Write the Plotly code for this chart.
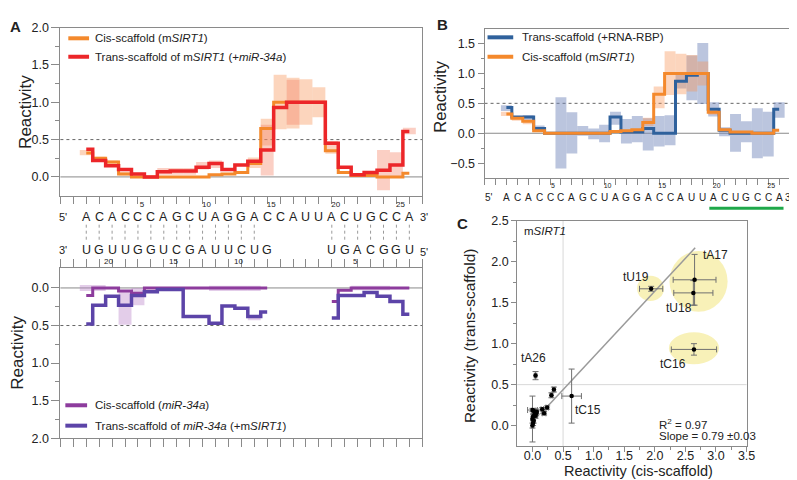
import plotly.graph_objects as go

W, H = 797, 480
FONT = "Liberation Sans, Arial, sans-serif"

# ---------------- data ----------------
pos = list(range(1, 27))
sirt1_seq = list("ACACCCAGCUAGGACCAUUACUGCCA")
mir34a_seq = list("UGUUGGUCGAUUCUG") + [None] * 4 + list("UGACGGU")
mir34a_num = ["20", "15", "10", "5"]
mir34a_num_pos = [2.75, 7.75, 12.75, 21.85]
paired = list(range(1, 15)) + list(range(20, 27))
seed_span = [19.6, 26.4]

# panel A top / panel B: cis-scaffold mSIRT1
cis_sirt1 = [0.32, 0.25, 0.20, 0.04, 0.0, 0.0, 0.0, 0.0, 0.0, 0.0, 0.03, 0.04, 0.06,
             0.18, 0.65, 1.0, 1.0, 1.0, 1.0, 0.35, 0.06, 0.02, 0.02, 0.0, 0.0, 0.05]
cis_sirt1_lo = [0.29, 0.21, 0.15, 0.02, None, None, None, None, None, None, None, None, None,
                0.12, 0.42, 0.64, 0.65, 0.70, 0.80, 0.31, None, None, None, None, None, None]
cis_sirt1_hi = [0.36, 0.27, 0.22, 0.07, None, None, None, None, None, None, None, None, None,
                0.26, 0.78, 1.37, 1.33, 1.31, 1.20, 0.40, None, None, None, None, None, None]

# panel A top: trans-scaffold of mSIRT1 (+miR-34a)
trans_sirt1 = [0.37, 0.22, 0.15, 0.10, 0.04, 0.0, 0.07, 0.08, 0.08, 0.13, 0.18, 0.10, 0.16,
               0.21, 0.36, 0.93, 1.0, 1.0, 1.0, 0.45, 0.13, 0.03, 0.06, 0.09, 0.16, 0.61]
trans_sirt1_lo = [None, None, None, None, None, None, 0.03, 0.03, 0.03, 0.10, 0.12, None, None,
                  None, 0.02, None, 0.70, None, None, 0.40, None, None, None, -0.18, 0.0, 0.57]
trans_sirt1_hi = [None, None, None, None, None, None, 0.12, 0.12, 0.12, 0.20, 0.22, None, None,
                  None, 0.70, None, 1.30, None, None, 0.48, None, None, None, 0.36, 0.33, 0.66]

# panel A bottom: miR-34a
cis_mir = [0.10, 0.0, 0.0, 0.04, 0.07, 0.0, 0.0, 0.0, 0.0, 0.0, 0.0, 0.0, 0.0, 0.0, 0.0,
           None, None, None, None, 0.18, 0.03, 0.0, 0.0, 0.0, 0.0, 0.0]
cis_mir_lo = [-0.04, -0.04, None, 0.04, 0.0, None, None, None, None, None, -0.03, -0.03, -0.03, -0.03, None,
              None, None, None, None, None, None, -0.03, -0.03, -0.03, None, None]
cis_mir_hi = [0.04, 0.04, None, 0.49, 0.23, None, None, None, None, None, 0.04, 0.04, 0.04, 0.04, None,
              None, None, None, None, None, None, 0.03, 0.03, 0.03, None, None]
trans_mir = [0.48, 0.23, 0.11, 0.23, 0.10, 0.05, 0.02, 0.02, 0.38, 0.38, 0.47, 0.24, 0.27, 0.38, 0.32,
             None, None, None, None, 0.40, 0.10, 0.10, 0.06, 0.11, 0.18, 0.35]
trans_mir_lo = [None] * 13 + [0.36] + [None] * 12
trans_mir_hi = [None] * 13 + [0.43] + [None] * 12

# panel B: trans-scaffold (+RNA-RBP)
trans_rbp = [0.43, 0.27, 0.27, 0.08, 0.0, 0.0, 0.0, 0.0, 0.0, 0.0, 0.27, 0.02, 0.02,
             0.08, 0.0, 0.0, 0.87, 0.97, 1.0, 0.40, 0.05, 0.0, 0.0, 0.0, 0.0, 0.40]
trans_rbp_lo = [0.37, None, 0.22, 0.04, None, -0.59, -0.34, -0.04, -0.10, -0.15, 0.14, -0.17, -0.15,
                -0.29, -0.22, -0.20, 0.75, 0.55, 0.49, 0.28, -0.05, -0.31, -0.15, -0.42, -0.39, 0.26]
trans_rbp_hi = [0.47, None, 0.30, 0.13, None, 0.60, 0.35, 0.12, 0.08, 0.14, 0.36, 0.24, 0.29,
                0.25, 0.29, 0.30, 0.98, 1.30, 1.51, 0.52, 0.10, 0.32, 0.20, 0.42, 0.36, 0.52]

# panel C: reactivity cis vs trans
c_cis = [0.00, 0.01, 0.02, 0.00, 0.01, 0.03, 0.04, 0.02, 0.06, 0.07, 0.05, 0.00,
         0.16, 0.19, 0.24, 0.31, 0.35, 0.64, 0.05, 2.64, 2.63, 2.65, 1.94]
c_trans = [0.00, 0.03, 0.06, 0.08, 0.11, 0.13, 0.16, 0.18, 0.15, 0.17, 0.12, 0.19,
           0.20, 0.15, 0.22, 0.37, 0.44, 0.36, 0.61, 0.93, 1.62, 1.78, 1.67]
c_cis_err = [0.02, 0.02, 0.02, 0.02, 0.03, 0.02, 0.03, 0.03, 0.03, 0.02, 0.03, 0.08,
             0.02, 0.03, 0.02, 0.02, 0.02, 0.16, 0.02, 0.37, 0.32, 0.35, 0.19]
c_trans_err = [0.03, 0.03, 0.03, 0.28, 0.03, 0.03, 0.03, 0.03, 0.03, 0.03, 0.03, 0.02,
               0.02, 0.02, 0.02, 0.03, 0.03, 0.33, 0.05, 0.07, 0.15, 0.31, 0.03]
c_labels = {17: "tC15", 18: "tA26", 19: "tC16", 20: "tU18", 21: "tA17", 22: "tU19"}
fit_x = [0.13, 2.66]
fit_y = [0.14, 2.17]

# ---------------- styling ----------------
ORANGE = "#F4892C"
RED = "#EC2629"
MAGENTA = "#8D3C9D"
VIOLET = "#5C44A8"
BLUE = "#2F619C"
ORANGE_BAND = "rgba(248,150,90,0.40)"
RED_BAND = "rgba(244,130,100,0.38)"
LILAC = "rgba(185,130,200,0.40)"
BLUE_BAND = "rgba(120,140,190,0.50)"
AXIS = "#8a8a8a"
TXT = "#222222"


def fx(px):
    return px / W


def fy(py):
    return 1 - py / H


def band(lo, hi, color, xa, ya):
    xs, base, height = [], [], []
    for p, l, h in zip(pos, lo, hi):
        if l is None or h is None:
            continue
        xs.append(p)
        base.append(l)
        height.append(h - l)
    return go.Bar(x=xs, y=height, base=base, width=1, xaxis=xa, yaxis=ya,
                  marker=dict(color=color, line_width=0), showlegend=False, hoverinfo="skip")


def step(y, color, xa, ya, w=3):
    return go.Scatter(x=pos, y=y, mode="lines", line=dict(color=color, width=w, shape="hvh"),
                      xaxis=xa, yaxis=ya, showlegend=False, connectgaps=False)


fig = go.Figure()

# A top
fig.add_trace(band(cis_sirt1_lo, cis_sirt1_hi, ORANGE_BAND, "x", "y"))
fig.add_trace(band(trans_sirt1_lo, trans_sirt1_hi, RED_BAND, "x", "y"))
fig.add_trace(step(cis_sirt1, ORANGE, "x", "y"))
fig.add_trace(step(trans_sirt1, RED, "x", "y", 3.5))

# A bottom
fig.add_trace(band(cis_mir_lo, cis_mir_hi, LILAC, "x2", "y2"))
fig.add_trace(band(trans_mir_lo, trans_mir_hi, LILAC, "x2", "y2"))
fig.add_trace(step(cis_mir, MAGENTA, "x2", "y2"))
fig.add_trace(step(trans_mir, VIOLET, "x2", "y2", 3.5))

# B
fig.add_trace(band(trans_rbp_lo, trans_rbp_hi, BLUE_BAND, "x3", "y3"))
fig.add_trace(step(trans_rbp, BLUE, "x3", "y3"))
fig.add_trace(band(cis_sirt1_lo, cis_sirt1_hi, ORANGE_BAND, "x3", "y3"))
fig.add_trace(step(cis_sirt1, ORANGE, "x3", "y3"))

# C
fig.add_trace(go.Scatter(x=fit_x, y=fit_y, mode="lines", line=dict(color="#9a9a9a", width=1.5),
                         xaxis="x4", yaxis="y4", showlegend=False))
fig.add_trace(go.Scatter(
    x=c_cis, y=c_trans, mode="markers", xaxis="x4", yaxis="y4", showlegend=False,
    marker=dict(color="black", size=4.5),
    error_x=dict(type="data", array=c_cis_err, color="#707070", thickness=1, width=3),
    error_y=dict(type="data", array=c_trans_err, color="#707070", thickness=1, width=3)))

seq_major = [5, 10, 15, 20, 25]
seq_minor = [i for i in range(-1, 28) if i not in seq_major]
ax_common = dict(showline=True, linecolor=AXIS, linewidth=1, showgrid=False, zeroline=False,
                 ticks="outside", tickcolor=AXIS, tickfont=dict(size=12.5, color=TXT))

fig.update_layout(
    width=W, height=H, margin=dict(l=0, r=0, t=0, b=0),
    paper_bgcolor="white", plot_bgcolor="white", barmode="overlay",
    font=dict(family=FONT, color=TXT),
    xaxis=dict(ax_common, domain=[fx(53), fx(419)], range=[-1, 27], mirror=True,
               tickvals=seq_major, ticklen=7, tickfont=dict(size=8, color=TXT),
               ticklabelshift=4, ticklabelstandoff=-6,
               minor=dict(tickvals=seq_minor, ticklen=7, ticks="outside", tickcolor=AXIS),
               anchor="y"),
    yaxis=dict(ax_common, domain=[fy(186), fy(13)], range=[-0.25, 2.0], mirror=True,
               tickvals=[0, 0.5, 1, 1.5, 2], tickformat=".1f", ticklen=8,
               minor=dict(tickvals=[0.25, 0.75, 1.25, 1.75], ticklen=4, ticks="outside", tickcolor=AXIS),
               anchor="x"),
    xaxis2=dict(ax_common, domain=[fx(53), fx(419)], range=[-1, 27], mirror="ticks",
                tickvals=list(range(-1, 28)), showticklabels=False, ticklen=8, anchor="y2"),
    yaxis2=dict(ax_common, domain=[fy(436), fy(261)], range=[2.0, -0.26], mirror=True,
                tickvals=[0, 0.5, 1, 1.5, 2], tickformat=".1f", ticklen=8,
                minor=dict(tickvals=[0.25, 0.75, 1.25, 1.75], ticklen=4, ticks="outside", tickcolor=AXIS),
                anchor="x2"),
    xaxis3=dict(ax_common, domain=[fx(482), fx(791)], range=[-1, 27], mirror=True,
                tickvals=seq_major, ticklen=6, tickfont=dict(size=7, color=TXT),
                ticklabelshift=3, ticklabelstandoff=-6,
                minor=dict(tickvals=seq_minor, ticklen=6, ticks="outside", tickcolor=AXIS),
                anchor="y3"),
    yaxis3=dict(ax_common, domain=[fy(168), fy(14)], range=[-0.75, 1.75], mirror=True,
                tickvals=[-0.5, 0, 0.5, 1, 1.5], tickformat=".1f", ticklen=6,
                minor=dict(tickvals=[-0.25, 0.25, 0.75, 1.25], ticklen=3, ticks="outside", tickcolor=AXIS),
                anchor="x3"),
    xaxis4=dict(ax_common, domain=[fx(515), fx(747)], range=[-0.25, 3.5], mirror=True,
                tickvals=[0, 0.5, 1, 1.5, 2, 2.5, 3, 3.5], tickformat=".1f", ticklen=5,
                tickfont=dict(size=12.5, color=TXT), ticklabelstandoff=-7,
                minor=dict(tickvals=[0.25, 0.75, 1.25, 1.75, 2.25, 2.75, 3.25], ticklen=3,
                           ticks="outside", tickcolor=AXIS),
                anchor="y4"),
    yaxis4=dict(ax_common, domain=[fy(444), fy(212)], range=[-0.25, 2.5], mirror=True,
                tickvals=[0, 0.5, 1, 1.5, 2, 2.5], tickformat=".1f", ticklen=5,
                tickfont=dict(size=12.5, color=TXT),
                minor=dict(tickvals=[0.25, 0.75, 1.25, 1.75, 2.25], ticklen=3,
                           ticks="outside", tickcolor=AXIS),
                anchor="x4"),
)

shapes = []
# reference lines (zero and 0.5 threshold)
for xa, ya in [("x", "y"), ("x2", "y2"), ("x3", "y3")]:
    shapes.append(dict(type="line", xref=xa + " domain", yref=ya, x0=0, x1=1, y0=0, y1=0,
                       line=dict(color="#8a8a8a", width=1), layer="below"))
    shapes.append(dict(type="line", xref=xa + " domain", yref=ya, x0=0, x1=1, y0=0.5, y1=0.5,
                       line=dict(color="#666666", width=1, dash="3px,3px"), layer="below"))
# panel C thresholds
shapes.append(dict(type="line", xref="x4", yref="y4 domain", x0=0.5, x1=0.5, y0=0, y1=1,
                   line=dict(color="#d8d8d8", width=1), layer="below"))
shapes.append(dict(type="line", xref="x4 domain", yref="y4", x0=0, x1=1, y0=0.5, y1=0.5,
                   line=dict(color="#d8d8d8", width=1), layer="below"))
# highlighted nucleotides in panel C
for x0, x1, y0, y1 in [(1.71, 2.15, 1.52, 1.83), (2.24, 3.19, 1.39, 2.13), (2.23, 3.05, 0.75, 1.14)]:
    shapes.append(dict(type="circle", xref="x4", yref="y4", x0=x0, x1=x1, y0=y0, y1=y1,
                       fillcolor="rgba(246,236,160,0.75)", line_width=0, layer="below"))
# base-pair dotted lines between the two strands
for p in paired:
    shapes.append(dict(type="line", xref="x", yref="paper", x0=p, x1=p, y0=fy(216), y1=fy(234),
                       line=dict(color="#9a9a9a", width=1, dash="dot")))
# seed underline in panel B
shapes.append(dict(type="line", xref="x3", yref="paper", x0=seed_span[0], x1=seed_span[1],
                   y0=fy(199), y1=fy(199), line=dict(color="#1FA84A", width=3)))

annotations = []


def note(text, x, y, size=11, xref="paper", yref="paper", xanchor="center", angle=0, yanchor="middle"):
    annotations.append(dict(text=text, x=x, y=y, xref=xref, yref=yref, showarrow=False,
                            xanchor=xanchor, yanchor=yanchor, textangle=angle,
                            font=dict(size=size, color=TXT, family=FONT)))


# legends (drawn as short line samples + text)
legends = [
    (ORANGE, "Cis-scaffold (m<i>SIRT1</i>)", 61, 82, 86, 24),
    (RED, "Trans-scaffold of m<i>SIRT1</i> (+<i>miR-34a</i>)", 61, 82, 86, 43),
    (MAGENTA, "Cis-scaffold (<i>miR-34a</i>)", 58, 80, 86, 402),
    (VIOLET, "Trans-scaffold of <i>miR-34a</i> (+m<i>SIRT1</i>)", 58, 80, 86, 423),
    (BLUE, "Trans-scaffold (+RNA-RBP)", 485, 511, 518, 23),
    (ORANGE, "Cis-scaffold (m<i>SIRT1</i>)", 485, 511, 518, 43),
]
for col, txt, a, b, tx, ty in legends:
    shapes.append(dict(type="line", xref="paper", yref="paper", x0=fx(a), x1=fx(b), y0=fy(ty), y1=fy(ty),
                       line=dict(color=col, width=4)))
    note(txt, fx(tx), fy(ty), size=11.5, xanchor="left")

# sequences
for p, b in zip(pos, sirt1_seq):
    note(b, p, fy(208), size=12.5, xref="x")
    note(b, p, fy(188), size=10, xref="x3")
for p, b in zip(pos, mir34a_seq):
    if b:
        note(b, p, fy(242), size=12.5, xref="x")
for t, p in zip(mir34a_num, mir34a_num_pos):
    note(t, p, fy(254), size=8, xref="x")
note("5'", fx(56), fy(208), size=11)
note("3'", fx(421), fy(208), size=11)
note("3'", fx(56), fy(242), size=11)
note("5'", fx(421), fy(244), size=11)
note("5'", fx(486), fy(188), size=10)
note("3'", fx(790), fy(188), size=10)

# axis titles
note("Reactivity", fx(17), fy(100), size=17, angle=-90)
note("Reactivity", fx(10), fy(348), size=17, angle=-90)
note("Reactivity", fx(436), fy(84), size=16.5, angle=-90)
note("Reactivity (trans-scaffold)", fx(467), fy(330), size=15.5, angle=-90)
note("Reactivity (cis-scaffold)", fx(638), fy(480), size=14.5, yanchor="bottom")

# panel letters
note("<b>A</b>", fx(8), fy(12), size=15)
note("<b>B</b>", fx(439), fy(10), size=15)
note("<b>C</b>", fx(460), fy(215), size=15)

# panel C labels
note("m<i>SIRT1</i>", -0.17, 2.38, size=11.5, xref="x4", yref="y4", xanchor="left")
label_pos = {"tC15": (0.90, 0.19), "tA26": (0.02, 0.83), "tC16": (2.29, 0.75),
             "tU18": (2.40, 1.43), "tA17": (3.0, 2.08), "tU19": (1.69, 1.82)}
for i, name in c_labels.items():
    lx, ly = label_pos[name]
    note(name, lx, ly, size=12, xref="x4", yref="y4")
note("R<sup>2</sup> = 0.97", 2.03, 0.02, size=11.5, xref="x4", yref="y4", xanchor="left")
note("Slope = 0.79 \u00b10.03", 2.03, -0.13, size=11.5, xref="x4", yref="y4", xanchor="left")

fig.update_layout(shapes=shapes, annotations=annotations)
fig.write_html("out.html")
